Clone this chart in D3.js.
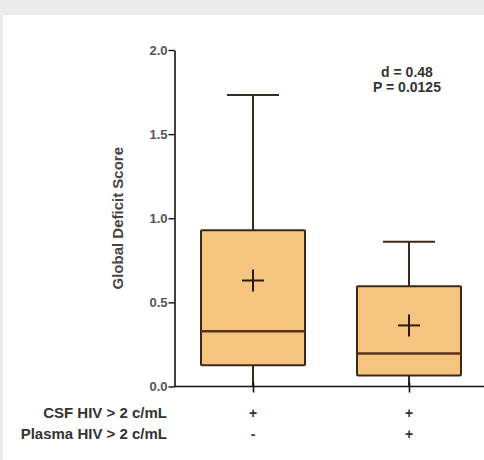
<!DOCTYPE html>
<html><head><meta charset="utf-8">
<script src="https://cdn.jsdelivr.net/npm/d3@7"></script>
<style>html,body{margin:0;padding:0;background:#ebebeb;}svg{display:block;}</style>
</head><body>
<svg id="chart" width="484" height="460"></svg>
<script>
const groups = ["g1", "g2"];
const whiskerLow = [0.0, 0.0];
const q1 = [0.127, 0.065];
const medians = [0.329, 0.196];
const q3 = [0.929, 0.596];
const whiskerHigh = [1.732, 0.86];
const means = [0.63, 0.363];
const yTicks = [0.0, 0.5, 1.0, 1.5, 2.0];
const rowLabels = ["CSF HIV > 2 c/mL", "Plasma HIV > 2 c/mL"];
const csfSigns = ["+", "+"];
const plasmaSigns = ["-", "+"];
const annotations = ["d = 0.48", "P = 0.0125"];
const yTitle = "Global Deficit Score";

const svg = d3.select("#chart");
svg.append("rect").attr("x", 3).attr("y", 15).attr("width", 481).attr("height", 445).attr("fill", "#ffffff");

const font = "'Liberation Sans', Arial, sans-serif";
const axisX = 174.5, axisY = 386.5;
const y = d3.scaleLinear().domain([0, 2]).range([axisY, 50]);
const x = d3.scalePoint().domain(groups).range([253, 409]);
const boxW = 104;
const fill = "#f5c47e", stroke = "#3b2a1c", medColor = "#5a3417";

const g = svg.append("g");
groups.forEach((k, i) => {
  const cx = x(k);
  g.append("line").attr("x1", cx).attr("x2", cx).attr("y1", y(q3[i])).attr("y2", y(whiskerHigh[i]))
    .attr("stroke", stroke).attr("stroke-width", 2);
  g.append("line").attr("x1", cx).attr("x2", cx).attr("y1", y(q1[i])).attr("y2", y(whiskerLow[i]))
    .attr("stroke", stroke).attr("stroke-width", 2);
  g.append("line").attr("x1", cx - boxW / 4).attr("x2", cx + boxW / 4).attr("y1", y(whiskerHigh[i])).attr("y2", y(whiskerHigh[i]))
    .attr("stroke", stroke).attr("stroke-width", 2);
  g.append("rect").attr("x", cx - boxW / 2).attr("y", y(q3[i])).attr("width", boxW).attr("height", y(q1[i]) - y(q3[i]))
    .attr("fill", fill).attr("stroke", stroke).attr("stroke-width", 2).attr("rx", 1);
  g.append("line").attr("x1", cx - boxW / 2).attr("x2", cx + boxW / 2).attr("y1", y(medians[i])).attr("y2", y(medians[i]))
    .attr("stroke", medColor).attr("stroke-width", 2.5);
  const my = y(means[i]);
  g.append("line").attr("x1", cx - 11).attr("x2", cx + 11).attr("y1", my).attr("y2", my).attr("stroke", "#2a1a0c").attr("stroke-width", 2);
  g.append("line").attr("x1", cx).attr("x2", cx).attr("y1", my - 11).attr("y2", my + 11).attr("stroke", "#2a1a0c").attr("stroke-width", 2);
});

const yAxis = d3.axisLeft(y).tickValues(yTicks).tickFormat(d3.format(".1f")).tickSize(6).tickSizeOuter(0);
const ya = svg.append("g").attr("transform", `translate(${axisX},0)`).call(yAxis);
ya.select(".domain").attr("stroke", "#111").attr("stroke-width", 1.6);
ya.selectAll(".tick line").attr("stroke", "#111").attr("stroke-width", 1.4);
ya.selectAll(".tick text").attr("font-family", font).attr("font-size", 13).attr("font-weight", "bold").attr("fill", "#555").attr("x", -7);

const xAxis = d3.axisBottom(x).tickSize(6).tickSizeOuter(0).tickFormat("");
const xa = svg.append("g").attr("transform", `translate(0,${axisY})`).call(xAxis);
xa.select(".domain").attr("d", `M${axisX},0H484`).attr("stroke", "#111").attr("stroke-width", 1.6);
xa.selectAll(".tick line").attr("stroke", "#111").attr("stroke-width", 1.6).attr("y1", -4);

svg.append("text").attr("transform", `translate(123,${y(1.0)}) rotate(-90)`).attr("text-anchor", "middle")
  .attr("font-family", font).attr("font-size", 15).attr("font-weight", "bold").attr("fill", "#444").text(yTitle);

[csfSigns, plasmaSigns].forEach((signs, r) => {
  const ry = 418 + r * 21;
  svg.append("text").attr("x", 167).attr("y", ry).attr("text-anchor", "end").attr("font-family", font)
    .attr("font-size", 15).attr("font-weight", "bold").attr("fill", "#333").text(rowLabels[r]);
  signs.forEach((s, i) => {
    svg.append("text").attr("x", x(groups[i])).attr("y", ry).attr("text-anchor", "middle").attr("font-family", font)
      .attr("font-size", 14).attr("font-weight", "bold").attr("fill", "#333").text(s);
  });
});

annotations.forEach((t, i) => {
  svg.append("text").attr("x", 407).attr("y", 77 + i * 15).attr("text-anchor", "middle").attr("font-family", font)
    .attr("font-size", 14).attr("font-weight", "bold").attr("fill", "#333").text(t);
});
</script>
</body></html>
